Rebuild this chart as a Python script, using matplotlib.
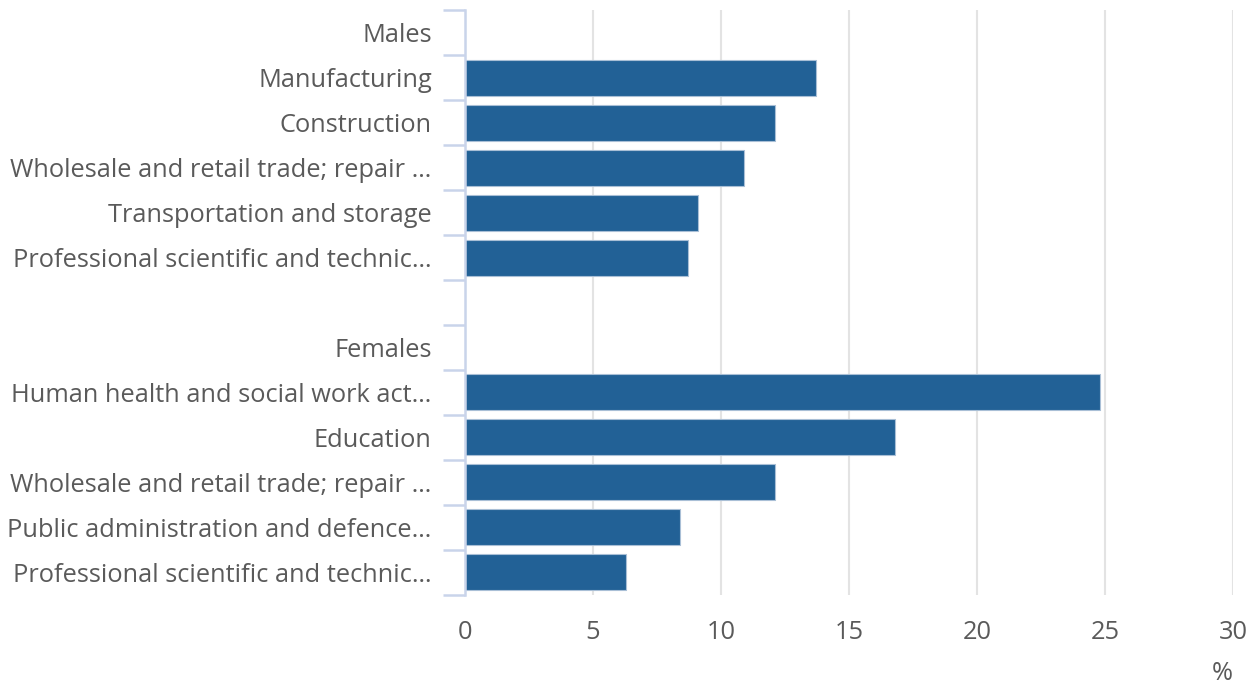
import matplotlib
matplotlib.use("Agg")
import matplotlib.pyplot as plt
import numpy as np

# Top 5 industries of employment by sex, % of employed
categories = [
    "Males",
    "Manufacturing",
    "Construction",
    "Wholesale and retail trade; repair …",
    "Transportation and storage",
    "Professional scientific and technic…",
    "",
    "Females",
    "Human health and social work act…",
    "Education",
    "Wholesale and retail trade; repair …",
    "Public administration and defence…",
    "Professional scientific and technic…",
]
# header and spacer rows carry no bar
values = [None, 13.7, 12.1, 10.9, 9.1, 8.7, None, None, 24.8, 16.8, 12.1, 8.4, 6.3]
x_ticks = [0, 5, 10, 15, 20, 25, 30]

BAR_COLOR = "#226196"
TEXT_COLOR = "#5a5a5a"
AXIS_COLOR = "#c9d4ea"
GRID_COLOR = "#e3e3e3"
FONT_SIZE = 18.3

plt.rcParams["font.family"] = ["Open Sans", "DejaVu Sans"]

fig = plt.figure(figsize=(12.57, 6.86), dpi=100)
ax = fig.add_axes([0.370, 0.133, 0.611, 0.852])

n = len(categories)
ypos = np.arange(n)
for y, v in zip(ypos, values):
    if v is None:
        continue
    ax.barh(y, v, height=0.8, color=BAR_COLOR, edgecolor="#a9bfd6",
            linewidth=0.8, zorder=3)

ax.set_ylim(n - 0.5, -0.5)
ax.set_xlim(0, 30)

ax.set_yticks(ypos)
ax.set_yticklabels(categories)
ax.set_yticks(np.arange(n + 1) - 0.5, minor=True)
ax.tick_params(axis="y", which="major", length=0, pad=24,
               labelsize=FONT_SIZE, labelcolor=TEXT_COLOR)
ax.tick_params(axis="y", which="minor", length=16, width=1.8, color=AXIS_COLOR)

ax.set_xticks(x_ticks)
ax.tick_params(axis="x", length=0, pad=18, labelsize=FONT_SIZE,
               labelcolor=TEXT_COLOR)
ax.grid(axis="x", color=GRID_COLOR, linewidth=1.5, zorder=0)

for side in ("top", "right", "bottom"):
    ax.spines[side].set_visible(False)
ax.spines["left"].set_color(AXIS_COLOR)
ax.spines["left"].set_linewidth(1.8)
ax.spines["left"].set_zorder(4)

fig.text(0.972, 0.0, "%", ha="center", va="bottom", fontsize=FONT_SIZE,
         color=TEXT_COLOR)

fig.savefig("out.png", dpi=100)
